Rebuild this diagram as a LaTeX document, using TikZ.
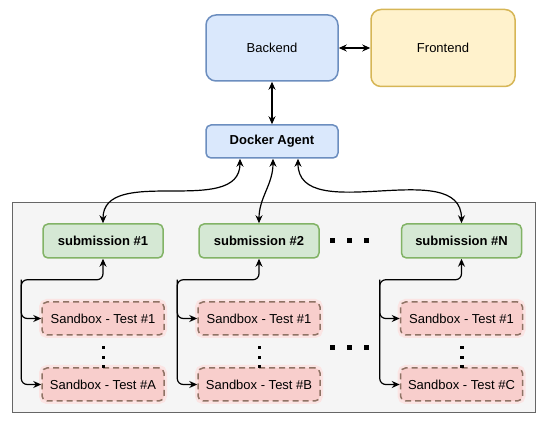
\documentclass[tikz,border=0pt]{standalone}
\usepackage{fontspec}
\setmainfont{Liberation Sans}
\usetikzlibrary{positioning, arrows.meta}
\definecolor{blueFill}{HTML}{DAE8FC}
\definecolor{blueLine}{HTML}{6C8EBF}
\definecolor{yellowFill}{HTML}{FFF2CC}
\definecolor{yellowLine}{HTML}{D6B656}
\definecolor{greenFill}{HTML}{D5E8D4}
\definecolor{greenLine}{HTML}{82B366}
\definecolor{redFill}{HTML}{F8CECC}
\definecolor{redLine}{HTML}{8F7365}
\definecolor{redHalo}{HTML}{FBE4E3}
\definecolor{grayFill}{HTML}{F5F5F5}
\definecolor{grayLine}{HTML}{666666}
\tikzset{
    on grid,
    x=1pt, y=1pt,
    every node/.style={font=\fontsize{13}{15}\selectfont},
    box/.style={draw, line width=1.5pt, align=center},
    backend/.style={box, fill=blueFill, draw=blueLine, rounded corners=10pt,
        minimum width=132pt, minimum height=66pt},
    frontend/.style={box, fill=yellowFill, draw=yellowLine, rounded corners=10pt,
        minimum width=144pt, minimum height=77pt},
    agent/.style={box, fill=blueFill, draw=blueLine, rounded corners=5pt,
        minimum width=132pt, minimum height=33pt, font=\fontsize{13}{15}\selectfont\bfseries},
    submission/.style={box, fill=greenFill, draw=greenLine, rounded corners=5pt,
        minimum width=120pt, minimum height=34pt, font=\fontsize{13}{15}\selectfont\bfseries},
    sandbox/.style={box, fill=redFill, draw=redLine, rounded corners=5pt, dashed,
        dash pattern=on 6pt off 4pt,
        preaction={draw=redHalo, line width=6pt, solid},
        minimum width=122pt, minimum height=33pt},
    link/.style={{Stealth[length=8pt,width=7pt]}-{Stealth[length=8pt,width=7pt]}, line width=1.2pt},
    branch/.style={-{Stealth[length=8pt,width=7pt]}, line width=1.2pt, rounded corners=6pt},
}

\begin{document}
\begin{tikzpicture}
    \useasboundingbox (0,0) rectangle (550,422);
    % grey container
    \draw[fill=grayFill, draw=grayLine, line width=1pt] (12,9) rectangle (535,219);

    \node[agent] (docker) at (272,280.5) {Docker Agent};
    \node[backend, above=93.5 of docker] (backend) {Backend};
    \node[frontend, right=171 of backend] (frontend) {Frontend};

    \node[submission, below left=99.5 and 169 of docker] (sub1) {submission \#1};
    \node[submission, right=156 of sub1] (sub2) {submission \#2};
    \node[submission, right=202.5 of sub2] (subN) {submission \#N};

    \node[sandbox, below=77.5 of sub1] (sb1a) {Sandbox - Test \#1};
    \node[sandbox, below=66 of sb1a] (sb1z) {Sandbox - Test \#A};
    \node[sandbox, below=77.5 of sub2] (sb2a) {Sandbox - Test \#1};
    \node[sandbox, below=66 of sb2a] (sb2z) {Sandbox - Test \#B};
    \node[sandbox, below=77.5 of subN] (sbNa) {Sandbox - Test \#1};
    \node[sandbox, below=66 of sbNa] (sbNz) {Sandbox - Test \#C};

    % top links
    \draw[link] (backend.east) -- (backend.east -| frontend.west);
    \draw[link] (backend.south) -- (docker.north);
    \draw[link] ([xshift=-32pt]docker.south) to[out=-90, in=90] (sub1.north);
    \draw[link] ([xshift=1pt]docker.south) to[out=-90, in=90] (sub2.north);
    \draw[link] ([xshift=26pt]docker.south) to[out=-90, in=90] (subN.north);

    % submission to sandboxes
    \foreach \s/\a/\z in {sub1/sb1a/sb1z, sub2/sb2a/sb2z, subN/sbNa/sbNz} {
        \coordinate (\s-bend) at ([xshift=-20pt, yshift=-21pt]\a.west |- \s.south);
        \draw[branch, {Stealth[length=8pt,width=7pt]}-{Stealth[length=8pt,width=7pt]}]
            (\s.south) |- (\s-bend) |- (\a.west);
        \draw[branch] (\s-bend) |- (\z.west);
    }

    % dots
    \foreach \c in {sb1a, sb2a, sbNa}
        \foreach \d in {10, 20, 29}
            \fill ([xshift=-1.5pt, yshift=-\d pt]\c.south) rectangle ++(3.5,-3.5);
    \foreach \y in {241, 348}
        \foreach \x in {332, 349, 366}
            \fill (\x-2.5, 422-\y-2.5) rectangle ++(5,5);
\end{tikzpicture}
\end{document}
